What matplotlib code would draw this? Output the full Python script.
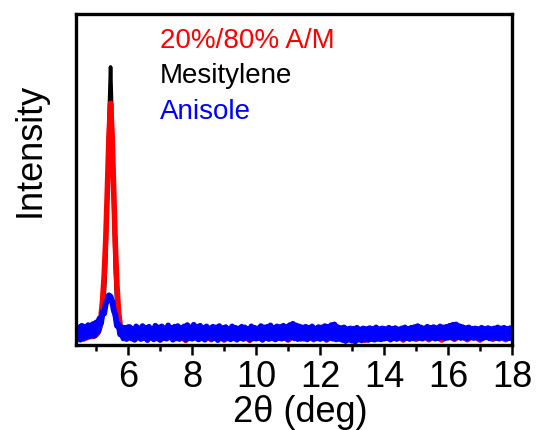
import numpy as np
import matplotlib
matplotlib.use("Agg")
import matplotlib.pyplot as plt
from matplotlib.ticker import MultipleLocator

plt.rcParams['font.family'] = ['Liberation Sans', 'DejaVu Sans']

# ---- data (arbitrary intensity units, 0..100) ----
x_left = np.round(np.arange(4.4, 4.851, 0.05), 2)
x_peak = [4.9, 4.95, 5.0, 5.05, 5.1, 5.15, 5.2, 5.25, 5.3, 5.35, 5.4, 5.45,
          5.5, 5.55, 5.6, 5.65, 5.7, 5.75, 5.8, 5.85, 5.9, 5.95, 6.0]
x_right_blue = np.round(np.arange(6.05, 18.001, 0.05), 2)
x_left_rb = [4.4, 4.6, 4.8]
x_right_rb = np.round(np.arange(6.2, 18.001, 0.2), 2)

blue_left = [2.2, 5.3, 1.6, 5.8, 2.0, 5.5, 2.4, 6.0, 2.6, 5.9]
blue_peak = [6.3, 2.8, 6.8, 4.0, 8.0, 6.5, 10.0, 9.5, 12.5, 13.5, 15.0, 14.6,
             13.2, 10.5, 9.0, 5.8, 6.2, 3.2, 5.4, 2.0, 5.2, 1.8, 5.4]
blue_right = [
    5.4, 2.0, 4.8, 1.6, 5.6, 2.3, 5.0, 1.8, 5.7, 2.1,
    5.2, 1.5, 5.5, 2.2, 4.9, 1.7, 5.8, 2.0, 5.3, 1.6,
    5.6, 2.1, 5.0, 1.9, 5.9, 2.3, 5.2, 1.6, 5.5, 2.0,
    5.7, 1.8, 5.1, 2.2, 5.6, 1.7, 6.0, 2.1, 5.3, 1.9,
    6.1, 2.2, 5.4, 1.7, 5.8, 2.0, 5.2, 1.6, 5.6, 2.3,
    5.0, 1.9, 5.5, 2.1, 5.3, 1.5, 5.7, 2.0, 5.1, 1.8,
    5.4, 2.2, 4.9, 1.7, 5.6, 2.0, 5.2, 1.6, 5.0, 2.1,
    5.5, 1.8, 5.3, 2.2, 4.8, 1.7, 5.6, 2.0, 5.2, 1.9,
    5.0, 2.1, 5.7, 1.6, 5.3, 2.2, 5.5, 1.8, 5.9, 2.0,
    5.2, 1.7, 5.6, 2.1, 5.4, 1.9, 5.8, 2.2, 5.5, 1.8,
    6.0, 2.3, 6.4, 2.0, 5.9, 1.8, 5.6, 2.1, 5.3, 1.9,
    5.5, 1.7, 5.2, 2.2, 5.6, 1.9, 5.0, 2.0, 5.4, 1.8,
    5.3, 2.1, 5.7, 1.8, 5.5, 2.2, 6.0, 1.9, 6.2, 1.7,
    5.4, 2.0, 5.1, 1.5, 5.3, 1.2, 4.8, 1.6, 5.0, 1.3,
    4.9, 1.1, 5.2, 1.6, 4.7, 1.4, 5.0, 1.9, 4.8, 1.5,
    5.1, 1.8, 4.9, 1.6, 5.3, 2.0, 4.8, 1.7, 5.0, 1.9,
    4.8, 2.1, 5.2, 1.7, 4.9, 2.0, 5.1, 1.8, 4.7, 2.2,
    5.0, 1.9, 5.3, 2.1, 4.9, 1.8, 5.2, 2.0, 5.4, 2.2,
    5.7, 2.1, 5.3, 1.9, 5.0, 2.3, 5.5, 2.0, 5.2, 2.2,
    5.4, 1.9, 5.1, 2.1, 5.6, 2.4, 5.3, 2.0, 5.5, 2.2,
    5.8, 2.3, 6.1, 2.0, 6.2, 2.4, 5.7, 2.1, 5.4, 2.2,
    5.1, 2.0, 5.3, 2.3, 4.9, 2.1, 5.0, 2.2, 4.8, 2.0,
    5.2, 2.1, 4.9, 2.3, 5.1, 2.0, 4.8, 2.2, 5.0, 2.1,
    5.3, 1.9, 5.0, 2.2, 5.2, 2.0, 4.9, 2.1, 5.1, 2.3,
]

red_left = [2.4, 1.8, 2.6]
red_peak = [2.6, 2.8, 3.2, 4.0, 5.5, 8.5, 13.5, 21, 32, 47, 63, 73,
            63, 46, 30, 18, 10, 6, 4, 3.2, 2.8, 2.6, 2.5]
red_right = [
    1.6, 3.0, 1.7, 2.9, 1.5, 3.1, 1.8, 2.8, 1.4, 3.0,
    1.7, 2.9, 1.6, 3.2, 1.5, 2.8, 1.8, 3.0, 1.4, 2.9,
    1.6, 3.1, 1.7, 2.8, 1.5, 3.0, 1.8, 2.9, 1.6, 3.3,
    1.5, 2.8, 1.7, 3.0, 1.6, 2.9, 1.4, 3.1, 1.7, 3.4,
    1.6, 2.9, 1.5, 3.0, 1.7, 2.8, 1.6, 3.0, 1.5, 2.9,
    1.7, 3.0, 1.6, 2.8, 1.5, 3.0, 1.7, 2.9, 1.6, 2.8,
]

black_left = [2.8, 2.6, 2.9]
black_peak = [2.5, 2.6, 2.8, 3.2, 4.0, 5.5, 8.5, 14, 25, 43, 68, 84,
              67, 41, 22, 11, 6, 4, 3.2, 2.8, 2.6, 2.5, 2.5]
black_right = [
    2.8, 3.4, 2.6, 3.2, 2.9, 3.5, 2.7, 3.3, 2.8, 3.1,
    2.9, 3.4, 2.7, 3.2, 2.8, 3.6, 2.6, 3.3, 2.9, 3.2,
    2.8, 3.4, 2.7, 3.1, 2.9, 3.3, 2.8, 3.2, 2.7, 3.5,
    2.6, 3.3, 2.8, 3.1, 2.7, 3.2, 2.6, 3.4, 2.8, 3.5,
    2.9, 3.2, 2.7, 3.3, 2.8, 3.1, 2.7, 3.2, 2.8, 3.4,
    2.9, 3.3, 2.7, 3.2, 2.8, 3.1, 2.9, 3.2, 2.7, 3.1,
]

labels = ["20%/80% A/M", "Mesitylene", "Anisole"]
colors = ["#ff0000", "#000000", "#0000ff"]
x_ticks = [6, 8, 10, 12, 14, 16, 18]

# ---- figure ----
fig = plt.figure(figsize=(5.38, 4.30), dpi=100)
ax = fig.add_axes([0.1413, 0.1977, 0.8104, 0.7698])

ax.plot(list(x_left_rb) + x_peak + list(x_right_rb), black_left + black_peak + black_right,
        color=colors[1], lw=2.6)
ax.plot(list(x_left_rb) + x_peak + list(x_right_rb), red_left + red_peak + red_right,
        color=colors[0], lw=4.0)
ax.plot(list(x_left) + x_peak + list(x_right_blue), blue_left + blue_peak + blue_right,
        color=colors[2], lw=4.2)

ax.set_xlim(4.37, 18.0)
ax.set_ylim(0, 100)
ax.set_xticks(x_ticks)
ax.xaxis.set_minor_locator(MultipleLocator(1))
ax.set_yticks([])
ax.tick_params(axis='x', which='major', direction='out', length=7, width=1.8,
               labelsize=26, pad=4, colors='black')
ax.tick_params(axis='x', which='minor', direction='out', length=4, width=1.8)
for s in ax.spines.values():
    s.set_linewidth(2.4)

ax.set_xlabel("2θ (deg)", fontsize=26, va='top')
ax.xaxis.set_label_coords(0.515, -0.152)
ax.set_ylabel("Intensity", fontsize=26)
ax.yaxis.set_label_coords(-0.065, 0.59)

ys = [0.897, 0.792, 0.683]
for lab, c, y in zip(labels, colors, ys):
    ax.text(0.193, y, lab, color=c, fontsize=20, transform=ax.transAxes,
            ha='left', va='baseline')

fig.savefig("out.png", dpi=100)
